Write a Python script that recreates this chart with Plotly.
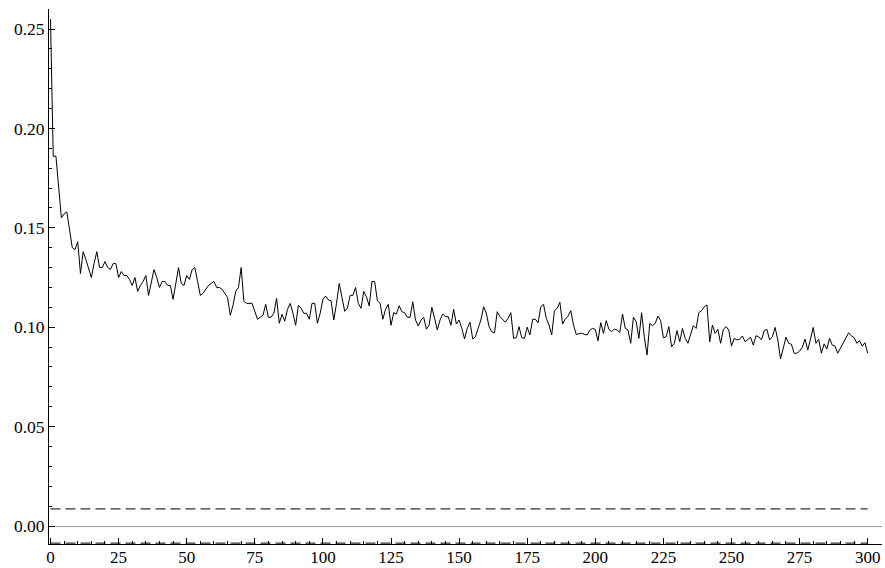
import plotly.graph_objects as go

# ---- data ----
lags = list(range(0, 301))
values = [
    0.255, 0.186, 0.186, 0.170, 0.155, 0.157, 0.158, 0.149, 0.140, 0.139,
    0.143, 0.127, 0.138, 0.134, 0.129, 0.125, 0.132, 0.138, 0.130, 0.130,
    0.133, 0.130, 0.129, 0.132, 0.132, 0.125, 0.128, 0.126, 0.126, 0.124,
    0.121, 0.125, 0.118, 0.121, 0.123, 0.126, 0.116, 0.122, 0.129, 0.125,
    0.120, 0.123, 0.123, 0.121, 0.121, 0.114, 0.122, 0.130, 0.122, 0.121,
    0.126, 0.124, 0.129, 0.130, 0.123, 0.116, 0.117, 0.119, 0.121, 0.122,
    0.123, 0.120, 0.120, 0.119, 0.117, 0.115, 0.106, 0.111, 0.118, 0.120,
    0.130, 0.113, 0.112, 0.112, 0.112, 0.108, 0.104, 0.105, 0.106, 0.1115,
    0.105, 0.105, 0.107, 0.1145, 0.102, 0.1065, 0.103, 0.109, 0.112, 0.107,
    0.101, 0.111, 0.1095, 0.107, 0.107, 0.104, 0.112, 0.112, 0.102, 0.107,
    0.114, 0.1157, 0.1137, 0.1133, 0.1036, 0.112, 0.122, 0.115, 0.108, 0.1096,
    0.116, 0.116, 0.120, 0.112, 0.1095, 0.118, 0.1153, 0.1107, 0.123, 0.123,
    0.1133, 0.112, 0.104, 0.109, 0.1115, 0.101, 0.1073, 0.1067, 0.1108, 0.1078,
    0.1073, 0.105, 0.105, 0.1128, 0.1036, 0.1006, 0.1036, 0.105, 0.099, 0.101,
    0.110, 0.1045, 0.0986, 0.1036, 0.1066, 0.1053, 0.1053, 0.101, 0.109, 0.1016,
    0.1036, 0.0994, 0.0941, 0.0994, 0.1025, 0.0941, 0.0952, 0.0995, 0.1036, 0.1103,
    0.107, 0.1003, 0.0977, 0.0972, 0.1078, 0.1053, 0.1041, 0.1025, 0.1045, 0.1073,
    0.0944, 0.0947, 0.1003, 0.0947, 0.0944, 0.100, 0.0961, 0.104, 0.104, 0.1023,
    0.1103, 0.1115, 0.1045, 0.1011, 0.0961, 0.1083, 0.1095, 0.1125, 0.1016, 0.1041,
    0.1056, 0.1083, 0.1011, 0.0964, 0.0967, 0.097, 0.0964, 0.0961, 0.0985, 0.0994,
    0.0989, 0.0931, 0.1023, 0.0969, 0.1033, 0.0989, 0.0978, 0.099, 0.0986, 0.0974,
    0.1066, 0.0994, 0.0986, 0.0919, 0.105, 0.1028, 0.0944, 0.1073, 0.0949, 0.086,
    0.1019, 0.1008, 0.1019, 0.1056, 0.1033, 0.0947, 0.0952, 0.1003, 0.0902, 0.0919,
    0.0983, 0.0927, 0.0994, 0.0944, 0.0919, 0.0969, 0.1008, 0.0994, 0.1073, 0.1083,
    0.1103, 0.1112, 0.0927, 0.1011, 0.0969, 0.0989, 0.0919, 0.0989, 0.1003, 0.0986,
    0.0905, 0.0944, 0.0936, 0.094, 0.0956, 0.0927, 0.094, 0.0949, 0.091, 0.0957,
    0.0952, 0.0936, 0.0983, 0.0989, 0.0936, 0.0952, 0.0999, 0.0936, 0.084, 0.0894,
    0.0949, 0.0919, 0.0914, 0.0869, 0.0869, 0.088, 0.0899, 0.094, 0.0885, 0.094,
    0.0999, 0.0919, 0.094, 0.0869, 0.0916, 0.089, 0.0944, 0.091, 0.0905, 0.0869,
    0.0895, 0.0919, 0.0945, 0.0972, 0.0956, 0.0948, 0.0919, 0.0932, 0.0905, 0.0922,
    0.0869,
]
band_x = [0, 300]
band_upper = [0.0086, 0.0086]
band_lower = [-0.0086, -0.0086]

x_ticks = [0, 25, 50, 75, 100, 125, 150, 175, 200, 225, 250, 275, 300]
y_ticks = [0.00, 0.05, 0.10, 0.15, 0.20, 0.25]

FONT = "Liberation Serif, Times New Roman, serif"

fig = go.Figure()
fig.add_trace(go.Scatter(x=band_x, y=band_upper, mode="lines",
                         line=dict(color="black", width=1, dash="10px,5px"),
                         hoverinfo="skip", showlegend=False, cliponaxis=False))
fig.add_trace(go.Scatter(x=band_x, y=band_lower, mode="lines",
                         line=dict(color="black", width=1, dash="10px,5px"),
                         hoverinfo="skip", showlegend=False, cliponaxis=False))
fig.add_trace(go.Scatter(x=lags, y=values, mode="lines",
                         line=dict(color="black", width=1),
                         showlegend=False))

fig.update_layout(
    width=885, height=568,
    margin=dict(l=49, r=3, t=9, b=24, autoexpand=False),
    paper_bgcolor="white", plot_bgcolor="white",
    font=dict(family=FONT, size=17, color="black"),
    showlegend=False,
)
fig.update_xaxes(
    range=[-0.55, 305.25], automargin=False,
    tickvals=x_ticks, ticktext=[str(v) for v in x_ticks],
    ticks="inside", ticklen=6, tickwidth=1, tickcolor="black",
    minor=dict(dtick=5, tick0=0, ticks="inside", ticklen=3, tickcolor="black", tickwidth=1, showgrid=False),
    showline=True, linecolor="black", linewidth=1,
    showgrid=False, zeroline=False,
    tickfont=dict(family=FONT, size=17, color="black"),
    ticklabelstandoff=-2,
)
fig.update_yaxes(
    range=[-0.00905, 0.26006], automargin=False,
    tickvals=y_ticks, ticktext=[f"{v:.2f}" for v in y_ticks],
    ticks="inside", ticklen=6, tickwidth=1, tickcolor="black",
    minor=dict(dtick=0.01, tick0=0, ticks="inside", ticklen=3, tickcolor="black", tickwidth=1, showgrid=False),
    showline=True, linecolor="black", linewidth=1,
    showgrid=False,
    zeroline=True, zerolinecolor="#a0a0a0", zerolinewidth=1,
    tickfont=dict(family=FONT, size=17.5, color="black"),
    ticklabelstandoff=0,
)

fig.write_html("out.html")
